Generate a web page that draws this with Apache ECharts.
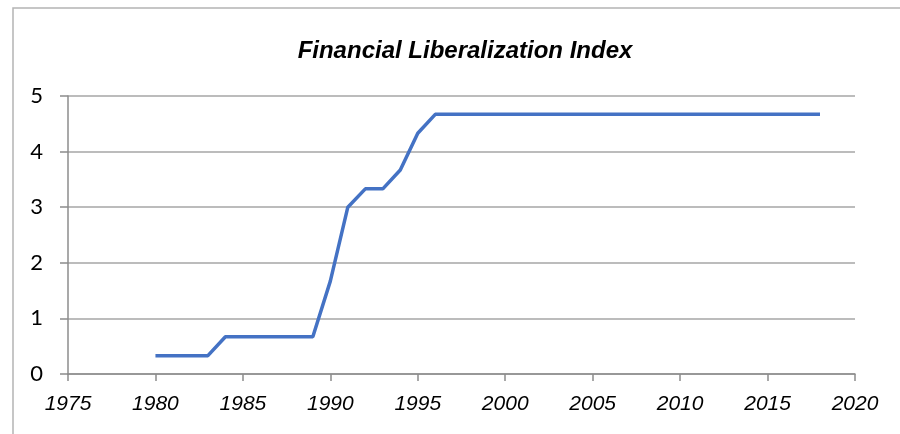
<!DOCTYPE html>
<html>
<head>
<meta charset="utf-8">
<script src="https://cdn.jsdelivr.net/npm/echarts@6/dist/echarts.min.js"></script>
<style>
  html, body { margin: 0; padding: 0; background: #fff; }
  #chart { width: 900px; height: 434px; }
</style>
</head>
<body>
<div id="chart"></div>
<script>
// yearly index values
const years = [1980, 1981, 1982, 1983, 1984, 1985, 1986, 1987, 1988, 1989,
  1990, 1991, 1992, 1993, 1994, 1995, 1996, 1997, 1998, 1999,
  2000, 2001, 2002, 2003, 2004, 2005, 2006, 2007, 2008, 2009,
  2010, 2011, 2012, 2013, 2014, 2015, 2016, 2017, 2018]
const indexValues = [0.33, 0.33, 0.33, 0.33, 0.67, 0.67, 0.67, 0.67, 0.67, 0.67,
  1.67, 3.0, 3.33, 3.33, 3.67, 4.33, 4.67, 4.67, 4.67, 4.67,
  4.67, 4.67, 4.67, 4.67, 4.67, 4.67, 4.67, 4.67, 4.67, 4.67,
  4.67, 4.67, 4.67, 4.67, 4.67, 4.67, 4.67, 4.67, 4.67]

const chartInstance = echarts.init(document.getElementById('chart'))

const lineOptions = {
    animation: false,
    title: {
        text: 'Financial Liberalization Index',
        left: 460,
        textAlign: 'center',
        top: 34,
        textStyle: {
            fontFamily: 'Liberation Sans',
            fontStyle: 'italic',
            fontWeight: 'bold',
            fontSize: 24,
            color: '#000'
        }
    },
    graphic: [{
        type: 'polyline',
        shape: { points: [[13, 440], [13, 8], [905, 8]] },
        style: { stroke: '#b4b4b4', lineWidth: 1.5, fill: null }
    }],
    grid: {
        left: 68,
        right: 45,
        top: 96,
        bottom: 60
    },
    xAxis: {
        type: 'value',
        min: 1975,
        max: 2020,
        interval: 5,
        axisLine: { show: true, lineStyle: { color: '#8c8c8c', width: 1.5 } },
        axisTick: { show: true, length: 7, lineStyle: { color: '#8c8c8c', width: 1.5 } },
        axisLabel: {
            margin: 20,
            formatter: v => String(v),
            fontFamily: 'Liberation Sans',
            fontStyle: 'italic',
            fontSize: 21,
            color: '#000'
        },
        splitLine: { show: false }
    },
    yAxis: {
        type: 'value',
        min: 0,
        max: 5,
        interval: 1,
        axisLine: { show: true, onZero: false, lineStyle: { color: '#8c8c8c', width: 1.5 } },
        axisTick: { show: true, length: 8, lineStyle: { color: '#8c8c8c', width: 1.5 } },
        axisLabel: {
            margin: 25,
            fontFamily: 'Lato',
            fontSize: 22,
            color: '#000'
        },
        splitLine: { show: true, lineStyle: { color: '#a6a6a6', width: 1.5 } }
    },
    series: [{
        type: 'line',
        data: years.map((y, i) => [y, indexValues[i]]),
        showSymbol: false,
        lineStyle: { color: '#4472C4', width: 3.5 },
        itemStyle: { color: '#4472C4' }
    }]
}

chartInstance.setOption(lineOptions)
</script>
</body>
</html>
